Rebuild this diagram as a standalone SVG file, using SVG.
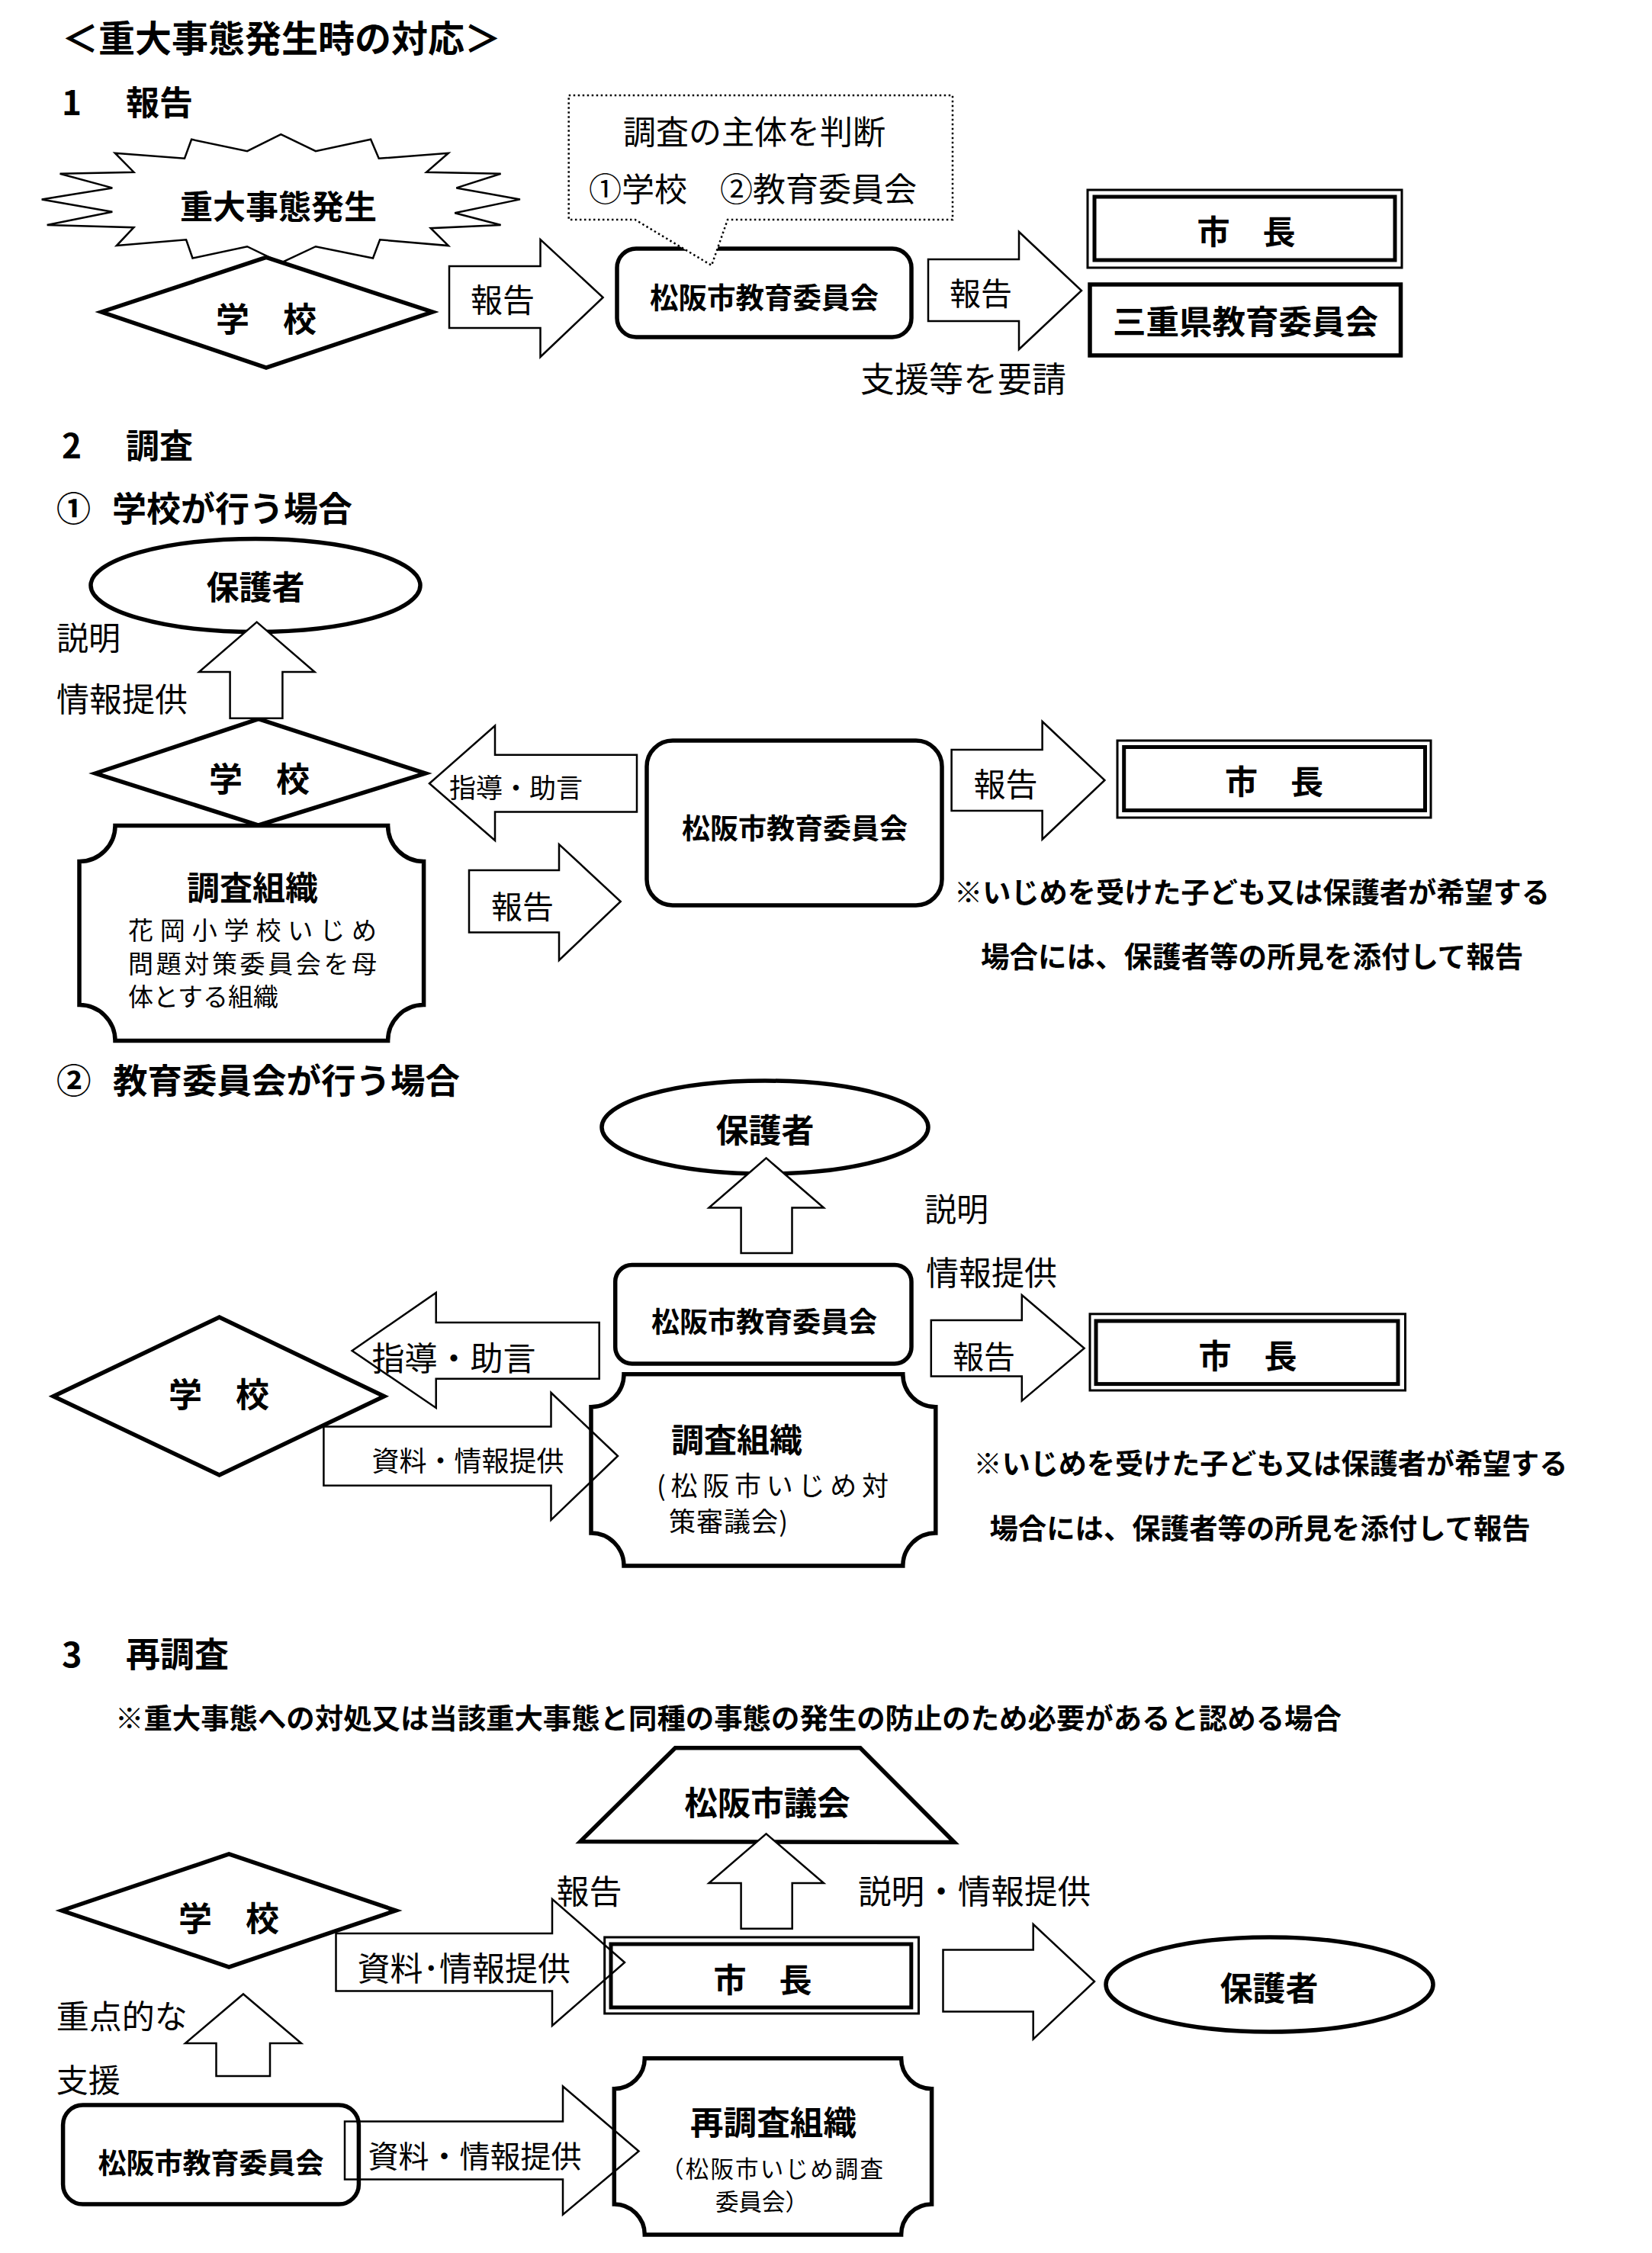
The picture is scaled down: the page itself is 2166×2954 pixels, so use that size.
<svg xmlns="http://www.w3.org/2000/svg" width="2166" height="2954" viewBox="0 0 2166 2954">
<style>
text{dominant-baseline:central;fill:#000}
.b{font-family:"Noto Sans CJK JP","Noto Sans CJK SC",sans-serif;font-weight:700}
.n{font-family:"Noto Sans CJK JP","Noto Sans CJK SC",sans-serif;font-weight:400}
.c{text-anchor:middle}
.node{fill:#fff;stroke:#000;stroke-width:5.5}
.thin{fill:#fff;stroke:#000;stroke-width:2.5}
.arr{fill:#fff;stroke:#000;stroke-width:2.5}
.arrn{fill:none;stroke:#000;stroke-width:2.5}
.dot{fill:#fff;stroke:#000;stroke-width:2.5;stroke-dasharray:2.5 3.5}
.outer{fill:#fff;stroke:#000;stroke-width:3}
.inner{fill:none;stroke:#000;stroke-width:5}
</style>
<rect width="2166" height="2954" fill="#fff"/>

<!-- headings -->
<g id="headings">
<text class="b" x="81" y="47" font-size="48">＜重大事態発生時の対応＞</text>
<text class="b" font-size="44" y="132"><tspan x="81">1</tspan>　<tspan x="165">報告</tspan></text>
<text class="b" font-size="44" y="582"><tspan x="81">2</tspan>　<tspan x="165">調査</tspan></text>
<text class="b" font-size="45" y="664"><tspan x="74">①</tspan>　<tspan x="147">学校が行う場合</tspan></text>
<text class="b" font-size="45.5" y="1414"><tspan x="74">②</tspan>　<tspan x="148">教育委員会が行う場合</tspan></text>
<text class="b" font-size="45" y="2166"><tspan x="81">3</tspan>　<tspan x="165">再調査</tspan></text>
<text class="b" x="151" y="2251" font-size="37.4">※重大事態への対処又は当該重大事態と同種の事態の発生の防止のため必要があると認める場合</text>
</g>

<!-- ===== Section 1 ===== -->
<g id="s1-outbreak">
<polygon class="thin" points="368.3,176.1 413.9,198.2 486.1,182.8 496.7,207.8 587.9,200.7 559.1,225.7 656.6,227.8 598.4,246.4 681.9,261.4 596.3,279.3 656.6,295 564.7,299.2 587.9,322.1 498.1,314.3 489,338.5 413.9,323.2 368.3,344.6 324.1,323.2 252.5,338.5 244.1,314.3 152.9,322.1 175.4,298.2 61.7,295 147.3,277.8 54.7,261.4 147.3,246.4 78.6,227.8 175.4,225.7 150.8,200.7 242,207.8 251.1,182.8 324.1,198.2"/>
<text class="b c" x="365" y="268" font-size="43">重大事態発生</text>
</g>
<g id="s1-school">
<polygon class="node" points="133,409 349,337.5 567,409 349,482"/>
<text class="b c" x="349" y="416" font-size="44">学　校</text>
</g>
<g id="s1-boe">
<rect class="node" x="809" y="326" width="386" height="116" rx="25"/>
<text class="b c" x="1002" y="387" font-size="37.5">松阪市教育委員会</text>
</g>
<g id="s1-callout">
<path class="dot" d="M745.7,125 H1249 V288 H954 L933,348 L832.7,288 H745.7 Z"/>
<text class="n" x="817" y="170" font-size="43">調査の主体を判断</text>
<text class="n" x="772" y="245" font-size="43">①学校　②教育委員会</text>
</g>
<g id="s1-mayor">
<rect class="outer" x="1426" y="249" width="412" height="102"/>
<rect class="inner" x="1435" y="258" width="394" height="83"/>
<text class="b c" x="1634" y="301" font-size="43">市　長</text>
</g>
<g id="s1-pref">
<rect class="node" x="1429" y="373" width="407.5" height="93"/>
<text class="b c" x="1633" y="419" font-size="43.5">三重県教育委員会</text>
</g>

<!-- ===== Section 2-1 ===== -->
<g id="s21-parent">
<ellipse class="node" cx="335" cy="767.5" rx="216" ry="61"/>
<text class="b c" x="335" y="767" font-size="43">保護者</text>
</g>
<g id="s21-school">
<polygon class="node" points="125,1014 339,942.7 557.7,1014 339,1082"/>
<text class="b c" x="340" y="1019" font-size="44">学　校</text>
</g>
<g id="s21-org">
<path class="node" d="M151,1082.5 H508.6 A47,47 0 0 0 555.6,1129.5 V1317.6 A47,47 0 0 0 508.6,1364.6 H151 A47,47 0 0 0 104,1317.6 V1129.5 A47,47 0 0 0 151,1082.5 Z"/>
<text class="b c" x="331" y="1161" font-size="43">調査組織</text>
<text class="n" x="168" y="1218" font-size="33" textLength="326" lengthAdjust="spacing">花岡小学校いじめ</text>
<text class="n" x="168" y="1262" font-size="33" textLength="326" lengthAdjust="spacing">問題対策委員会を母</text>
<text class="n" x="168" y="1305" font-size="33">体とする組織</text>
</g>
<g id="s21-boe">
<rect class="node" x="848" y="971" width="387" height="216" rx="34"/>
<text class="b c" x="1042" y="1084" font-size="37">松阪市教育委員会</text>
</g>
<g id="s21-mayor">
<rect class="outer" x="1465" y="971" width="411" height="101"/>
<rect class="inner" x="1473.7" y="979.5" width="394.8" height="83"/>
<text class="b c" x="1670.5" y="1022" font-size="43">市　長</text>
</g>
<g id="s21-note">
<text class="b" x="1251" y="1168" font-size="37.2">※いじめを受けた子ども又は保護者が希望する</text>
<text class="b" x="1286" y="1251" font-size="37.5">場合には、保護者等の所見を添付して報告</text>
</g>

<!-- ===== Section 2-2 ===== -->
<g id="s22-parent">
<ellipse class="node" cx="1003" cy="1478" rx="214" ry="61"/>
<text class="b c" x="1003" y="1479" font-size="43">保護者</text>
</g>
<g id="s22-boe">
<rect class="node" x="806.7" y="1658.5" width="388.3" height="129.5" rx="22"/>
<text class="b c" x="1002" y="1731" font-size="37">松阪市教育委員会</text>
</g>
<g id="s22-school">
<polygon class="node" points="70,1830.7 287.6,1727 503.7,1830.7 287.6,1934"/>
<text class="b c" x="287" y="1826" font-size="44">学　校</text>
</g>
<g id="s22-org">
<path class="node" d="M818,1801.7 H1183.8 A43,43 0 0 0 1226.8,1844.7 V2010 A43,43 0 0 0 1183.8,2053 H818 A43,43 0 0 0 775,2010 V1844.7 A43,43 0 0 0 818,1801.7 Z"/>
<text class="b c" x="966" y="1885" font-size="43">調査組織</text>
<text class="n" x="861" y="1945" font-size="35" textLength="304" lengthAdjust="spacing">(松阪市いじめ対</text>
<text class="n" x="877" y="1992" font-size="35" textLength="156" lengthAdjust="spacing">策審議会)</text>
</g>
<g id="s22-mayor">
<rect class="outer" x="1429" y="1722.8" width="413.5" height="100.2"/>
<rect class="inner" x="1437" y="1732" width="396" height="82.6"/>
<text class="b c" x="1636" y="1775" font-size="43">市　長</text>
</g>
<g id="s22-note">
<text class="b" x="1276.6" y="1917" font-size="37.1">※いじめを受けた子ども又は保護者が希望する</text>
<text class="b" x="1297.4" y="2002" font-size="37.4">場合には、保護者等の所見を添付して報告</text>
</g>

<!-- ===== Section 3 ===== -->
<g id="s3-council">
<polygon class="node" points="761,2414.4 885.3,2291.8 1127.9,2291.8 1251.3,2415.6"/>
<text class="b c" x="1006" y="2361.5" font-size="43.5">松阪市議会</text>
</g>
<g id="s3-school">
<polygon class="node" points="81,2505 300.2,2431 519,2505 300.2,2579"/>
<text class="b c" x="300" y="2513" font-size="44">学　校</text>
</g>
<g id="s3-mayor">
<rect class="outer" x="792.7" y="2540" width="411.8" height="100"/>
<rect class="inner" x="801" y="2549" width="393.8" height="83"/>
<text class="b c" x="1000" y="2593" font-size="43">市　長</text>
</g>
<g id="s3-parent">
<ellipse class="node" cx="1664.5" cy="2602" rx="214.5" ry="62"/>
<text class="b c" x="1664" y="2604" font-size="43">保護者</text>
</g>
<g id="s3-boe">
<rect class="node" x="82.6" y="2760" width="387.8" height="130" rx="26"/>
<text class="b c" x="276.4" y="2834" font-size="37">松阪市教育委員会</text>
</g>
<g id="s3-reorg">
<path class="node" d="M845.3,2698.7 H1181.6 A40,40 0 0 0 1221.6,2738.7 V2890 A40,40 0 0 0 1181.6,2930 H845.3 A40,40 0 0 0 805.3,2890 V2738.7 A40,40 0 0 0 845.3,2698.7 Z"/>
<text class="b c" x="1014" y="2779.5" font-size="43.6">再調査組織</text>
<text class="n" x="866" y="2842" font-size="30.5" textLength="292" lengthAdjust="spacing">（松阪市いじめ調査</text>
<text class="n" x="938" y="2885" font-size="30.5">委員会）</text>
</g>

<!-- ===== connectors (block arrows) ===== -->
<g id="connectors">
<!-- section 1 -->
<polygon class="arr" points="589,349 708.5,349 708.5,314 790.6,390 708.5,468 708.5,430 589,430"/>
<text class="n" x="617" y="390" font-size="42">報告</text>
<polygon class="arr" points="1217,340 1336,340 1336,304 1418,381 1336,458 1336,421 1217,421"/>
<text class="n" x="1245" y="382" font-size="41">報告</text>
<text class="n" x="1128" y="494" font-size="45">支援等を要請</text>

<!-- section 2-1 -->
<polygon class="arr" points="336.7,815.6 412.5,881 370.4,881 370.4,941.7 301.6,941.7 301.6,881 261,881"/>
<text class="n" x="74" y="833" font-size="42">説明</text>
<text class="n" x="74" y="914" font-size="43">情報提供</text>
<polygon class="arr" points="563,1027.3 649,951.6 649,989.8 835,989.8 835,1064.6 649,1064.6 649,1102"/>
<text class="n" x="589" y="1030" font-size="35">指導・助言</text>
<polygon class="arr" points="615,1141 733,1141 733,1107 813.7,1182 733,1259 733,1222.5 615,1222.5"/>
<text class="n" x="644" y="1186" font-size="41">報告</text>
<polygon class="arr" points="1247.6,983 1366.6,983 1366.6,946 1448.4,1023 1366.6,1100.5 1366.6,1063 1247.6,1063"/>
<text class="n" x="1276.6" y="1025" font-size="42">報告</text>

<!-- section 2-2 -->
<polygon class="arr" points="1004.6,1518.4 1080,1583.6 1038.5,1583.6 1038.5,1643 971.6,1643 971.6,1583.6 929.5,1583.6"/>
<text class="n" x="1212" y="1582" font-size="42">説明</text>
<text class="n" x="1214" y="1666" font-size="43">情報提供</text>
<polygon class="arr" points="461.6,1771 571.7,1695 571.7,1734 785.7,1734 785.7,1807.7 571.7,1807.7 571.7,1846"/>
<text class="n" x="487.5" y="1778" font-size="43">指導・助言</text>
<polygon class="arrn" points="424.4,1870.6 722.5,1870.6 722.5,1826 810,1909 722.5,1992.8 722.5,1947.8 424.4,1947.8"/>
<text class="n" x="487.5" y="1913" font-size="36">資料・情報提供</text>
<polygon class="arr" points="1220.8,1731 1339.8,1731 1339.8,1698 1421.6,1767.8 1339.8,1836.6 1339.8,1804.5 1220.8,1804.5"/>
<text class="n" x="1249" y="1775.6" font-size="41">報告</text>

<!-- section 3 -->
<polygon class="arr" points="1004.6,2404.4 1080,2469 1038.7,2469 1038.7,2528.7 971.6,2528.7 971.6,2469 929.5,2469"/>
<text class="n" x="729.6" y="2477" font-size="43">報告</text>
<text class="n" x="1125" y="2477" font-size="43.6">説明・情報提供</text>
<polygon class="arrn" points="440.5,2535 724,2535 724,2490 819,2573 724,2656 724,2610.5 440.5,2610.5"/>
<text class="n" x="468.6" y="2578" font-size="43">資料･情報提供</text>
<polygon class="arr" points="1236.5,2556.6 1354.7,2556.6 1354.7,2523 1435,2598 1354.7,2673.6 1354.7,2637.4 1236.5,2637.4"/>
<polygon class="arr" points="319,2614.5 395,2679 354,2679 354,2722 283.5,2722 283.5,2679 243,2679"/>
<text class="n" x="73.7" y="2641" font-size="43">重点的な</text>
<text class="n" x="73.7" y="2724" font-size="42">支援</text>
<polygon class="arrn" points="452,2781.6 738,2781.6 738,2735.5 837.5,2820.5 738,2903.6 738,2857.5 452,2857.5"/>
<text class="n" x="482.6" y="2825" font-size="40">資料・情報提供</text>
</g>
</svg>
